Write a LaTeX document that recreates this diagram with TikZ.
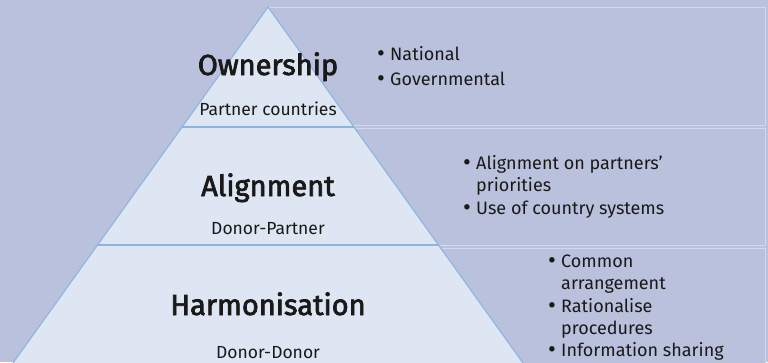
\documentclass[tikz,border=0pt]{standalone}
\usepackage{fontspec}
\setmainfont{Fira Sans}
\newfontfamily\titlefont[FakeBold=2.5]{Fira Sans}
\definecolor{bgc}{RGB}{186,193,220}
\definecolor{pyrfill}{RGB}{221,230,242}
\definecolor{pyrline}{RGB}{140,180,225}
\definecolor{boxline}{RGB}{208,218,236}
\definecolor{txt}{RGB}{25,25,25}
\tikzset{
  box/.style={draw=boxline, line width=1.3pt, fill=bgc},
  pyr/.style={draw=pyrline, line width=1.1pt, fill=pyrfill, line join=round},
  band/.style={draw=pyrline, line width=1.1pt},
  title/.style={font=\titlefont\fontsize{29}{32}\selectfont, text=txt, inner sep=0pt, anchor=base},
  sub/.style={font=\fontsize{17.5}{20}\selectfont, text=txt, inner sep=0pt, anchor=base},
  bul/.style={font=\fontsize{18}{20}\selectfont, text=txt, inner sep=0pt, anchor=base west},
  dot/.style={font=\fontsize{24}{26}\selectfont, text=txt, inner sep=0pt, anchor=base},
}
\begin{document}
\begin{tikzpicture}[x=1pt,y=-1pt]
\useasboundingbox (0,0) rectangle (768,362);
\fill[bgc] (0,0) rectangle (768,362);
\clip (0,0) rectangle (768,362);
% boxes
\node[box, minimum width=497pt, minimum height=118pt, anchor=north west, inner sep=0pt] (b1) at (268,7) {};
\node[box, minimum width=465pt, minimum height=117pt, anchor=north west, inner sep=0pt] (b2) at (300,128) {};
\node[box, minimum width=385pt, minimum height=130pt, anchor=north west, inner sep=0pt] (b3) at (380,248) {};
% pyramid
\coordinate (apex) at (268,7);
\coordinate (bl) at (268-260,370);
\coordinate (br) at (268+260,370);
\draw[pyr] (bl) -- (apex) -- (br) -- cycle;
\coordinate (l1) at (182,127);
\coordinate (r1) at (354,127);
\coordinate (l2) at (98,245);
\coordinate (r2) at (438,245);
\draw[band] (l1) -- (r1);
\draw[band] (l2) -- (r2);
% titles
\node[title] (own) at (268,75) {Ownership};
\node[sub] (ownsub) at (268,115) {Partner countries};
\node[title] (ali) at (268,196) {Alignment};
\node[sub] (alisub) at (268,234) {Donor-Partner};
\node[title] (har) at (268,315) {Harmonisation};
\node[sub] (harsub) at (268,358) {Donor-Donor};
% bullets box 1
\node[dot] (d11) at (381,61) {\textbullet};
\node[bul] (t11) at (390,60) {National};
\node[dot] (d12) at (381,86) {\textbullet};
\node[bul] (t12) at (390,85) {Governmental};
% bullets box 2
\node[dot] (d21) at (467,170) {\textbullet};
\node[bul] (t21) at (476,169) {Alignment on partners’};
\node[bul] (t22) at (476,191) {priorities};
\node[dot] (d23) at (467,215) {\textbullet};
\node[bul] (t23) at (476,214) {Use of country systems};
% bullets box 3
\node[dot] (d31) at (552,268) {\textbullet};
\node[bul] (t31) at (561,267) {Common};
\node[bul] (t32) at (561,289) {arrangement};
\node[dot] (d33) at (552,313) {\textbullet};
\node[bul] (t33) at (561,312) {Rationalise};
\node[bul] (t34) at (561,334) {procedures};
\node[dot] (d35) at (552,357) {\textbullet};
\node[bul] (t35) at (561,356) {Information sharing};
\end{tikzpicture}
\end{document}
